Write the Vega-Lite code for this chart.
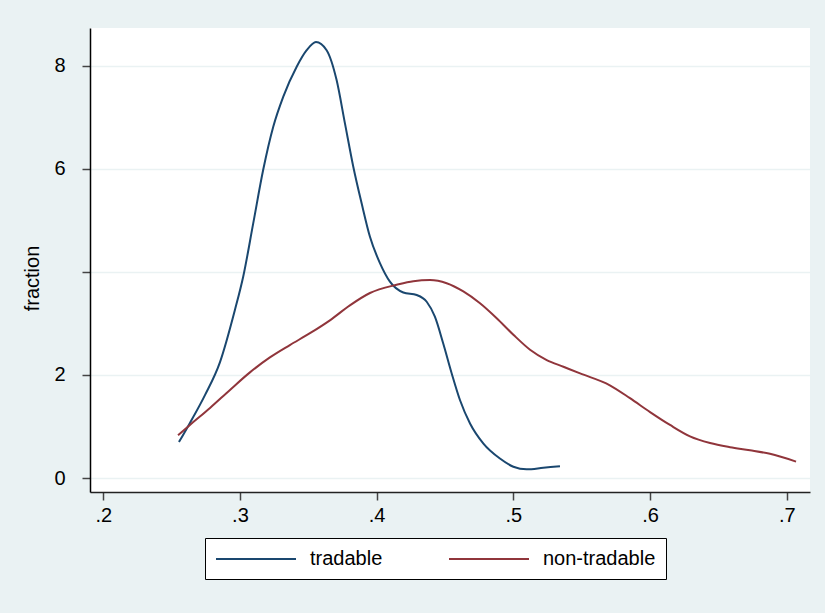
{
  "$schema": "https://vega.github.io/schema/vega-lite/v6.json",
  "width": 720,
  "height": 464,
  "autosize": {"type": "none"},
  "padding": {"left": 90, "top": 28, "right": 15, "bottom": 121},
  "background": "#EAF2F3",
  "config": {
    "font": "Liberation Sans",
    "view": {"fill": "white", "stroke": null}
  },
  "data": {
    "values": [
      {"series": "tradable", "x": 0.2554, "y": 0.70},
      {"series": "tradable", "x": 0.2634, "y": 1.07},
      {"series": "tradable", "x": 0.2744, "y": 1.61},
      {"series": "tradable", "x": 0.2854, "y": 2.25},
      {"series": "tradable", "x": 0.2963, "y": 3.26},
      {"series": "tradable", "x": 0.3024, "y": 3.91},
      {"series": "tradable", "x": 0.3097, "y": 4.94},
      {"series": "tradable", "x": 0.3170, "y": 5.98},
      {"series": "tradable", "x": 0.3244, "y": 6.82},
      {"series": "tradable", "x": 0.3317, "y": 7.40},
      {"series": "tradable", "x": 0.3415, "y": 7.98},
      {"series": "tradable", "x": 0.3488, "y": 8.30},
      {"series": "tradable", "x": 0.3556, "y": 8.46},
      {"series": "tradable", "x": 0.3634, "y": 8.30},
      {"series": "tradable", "x": 0.3707, "y": 7.72},
      {"series": "tradable", "x": 0.3768, "y": 6.88},
      {"series": "tradable", "x": 0.3829, "y": 6.04},
      {"series": "tradable", "x": 0.3890, "y": 5.33},
      {"series": "tradable", "x": 0.3951, "y": 4.68},
      {"series": "tradable", "x": 0.4024, "y": 4.17},
      {"series": "tradable", "x": 0.4097, "y": 3.81},
      {"series": "tradable", "x": 0.4195, "y": 3.60},
      {"series": "tradable", "x": 0.4293, "y": 3.55},
      {"series": "tradable", "x": 0.4366, "y": 3.42},
      {"series": "tradable", "x": 0.4426, "y": 3.13},
      {"series": "tradable", "x": 0.4487, "y": 2.61},
      {"series": "tradable", "x": 0.4549, "y": 2.03},
      {"series": "tradable", "x": 0.4610, "y": 1.51},
      {"series": "tradable", "x": 0.4683, "y": 1.06},
      {"series": "tradable", "x": 0.4781, "y": 0.67},
      {"series": "tradable", "x": 0.4902, "y": 0.38},
      {"series": "tradable", "x": 0.5000, "y": 0.22},
      {"series": "tradable", "x": 0.5097, "y": 0.17},
      {"series": "tradable", "x": 0.5219, "y": 0.20},
      {"series": "tradable", "x": 0.5341, "y": 0.23},
      {"series": "non-tradable", "x": 0.2547, "y": 0.83},
      {"series": "non-tradable", "x": 0.2634, "y": 1.03},
      {"series": "non-tradable", "x": 0.2781, "y": 1.36},
      {"series": "non-tradable", "x": 0.2927, "y": 1.71},
      {"series": "non-tradable", "x": 0.3073, "y": 2.05},
      {"series": "non-tradable", "x": 0.3219, "y": 2.34},
      {"series": "non-tradable", "x": 0.3365, "y": 2.58},
      {"series": "non-tradable", "x": 0.3512, "y": 2.81},
      {"series": "non-tradable", "x": 0.3658, "y": 3.06},
      {"series": "non-tradable", "x": 0.3804, "y": 3.35},
      {"series": "non-tradable", "x": 0.3951, "y": 3.59},
      {"series": "non-tradable", "x": 0.4146, "y": 3.75},
      {"series": "non-tradable", "x": 0.4268, "y": 3.82},
      {"series": "non-tradable", "x": 0.4390, "y": 3.84},
      {"series": "non-tradable", "x": 0.4512, "y": 3.78},
      {"series": "non-tradable", "x": 0.4634, "y": 3.62},
      {"series": "non-tradable", "x": 0.4756, "y": 3.39},
      {"series": "non-tradable", "x": 0.4878, "y": 3.10},
      {"series": "non-tradable", "x": 0.5000, "y": 2.78},
      {"series": "non-tradable", "x": 0.5122, "y": 2.49},
      {"series": "non-tradable", "x": 0.5244, "y": 2.29},
      {"series": "non-tradable", "x": 0.5366, "y": 2.16},
      {"series": "non-tradable", "x": 0.5488, "y": 2.03},
      {"series": "non-tradable", "x": 0.5706, "y": 1.80},
      {"series": "non-tradable", "x": 0.5853, "y": 1.55},
      {"series": "non-tradable", "x": 0.6000, "y": 1.28},
      {"series": "non-tradable", "x": 0.6146, "y": 1.03},
      {"series": "non-tradable", "x": 0.6292, "y": 0.81},
      {"series": "non-tradable", "x": 0.6439, "y": 0.68},
      {"series": "non-tradable", "x": 0.6585, "y": 0.60},
      {"series": "non-tradable", "x": 0.6731, "y": 0.54},
      {"series": "non-tradable", "x": 0.6877, "y": 0.47},
      {"series": "non-tradable", "x": 0.7068, "y": 0.32}
    ]
  },
  "mark": {"type": "line", "strokeWidth": 2, "interpolate": "monotone"},
  "encoding": {
    "x": {
      "field": "x",
      "type": "quantitative",
      "scale": {"domain": [0.1903, 0.717], "nice": false, "zero": false},
      "axis": {
        "values": [0.2, 0.3, 0.4, 0.5, 0.6, 0.7],
        "labelExpr": "replace(format(datum.value, '.1f'), '0.', '.')",
        "grid": false,
        "title": null,
        "domainColor": "#222222",
        "domainWidth": 1.5,
        "tickColor": "#444444",
        "tickSize": 8,
        "tickWidth": 1.5,
        "labelFontSize": 20,
        "labelColor": "black",
        "labelPadding": 5,
        "labelFlush": false,
        "labelOverlap": false
      }
    },
    "y": {
      "field": "y",
      "type": "quantitative",
      "scale": {"domain": [-0.27, 8.73], "nice": false, "zero": false},
      "axis": {
        "values": [0, 2, 4, 6, 8],
        "labelExpr": "datum.value == 4 ? '' : datum.label",
        "grid": true,
        "gridColor": "#EAF2F3",
        "gridWidth": 1.5,
        "domainColor": "black",
        "domainWidth": 1.5,
        "tickColor": "#444444",
        "tickSize": 8,
        "tickWidth": 1.5,
        "labelFontSize": 20,
        "labelColor": "black",
        "labelPadding": 17,
        "labelAngle": 0,
        "labelFlush": false,
        "labelOverlap": false,
        "title": "fraction",
        "titleFontSize": 20,
        "titleFontWeight": "normal",
        "titleColor": "black",
        "titleAngle": -90,
        "titleAlign": "center",
        "titleBaseline": "bottom",
        "titleX": -48,
        "titleY": 250
      }
    },
    "color": {
      "field": "series",
      "type": "nominal",
      "scale": {"domain": ["tradable", "non-tradable"], "range": ["#1A476F", "#90353B"]},
      "legend": {
        "title": null,
        "orient": "none",
        "legendX": 115,
        "legendY": 510,
        "direction": "horizontal",
        "symbolType": "M-1,0H7",
        "symbolSize": 400,
        "symbolStrokeWidth": 2,
        "symbolFillColor": "transparent",
        "labelFontSize": 20,
        "labelColor": "black",
        "labelOffset": 73,
        "padding": 10,
        "columnPadding": 62,
        "fillColor": "white",
        "strokeColor": "black"
      }
    }
  }
}
